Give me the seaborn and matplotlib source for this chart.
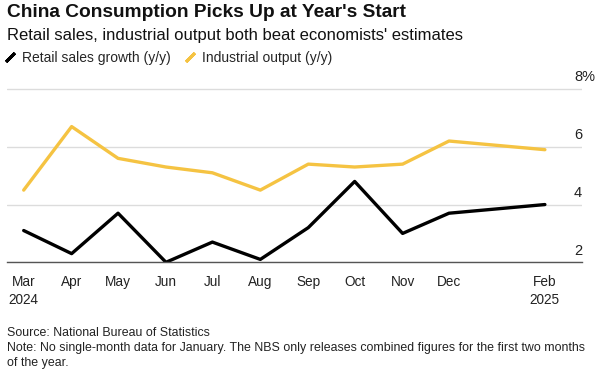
import matplotlib
matplotlib.use("Agg")
import matplotlib.pyplot as plt
import matplotlib.transforms as mtransforms
from matplotlib.lines import Line2D
import seaborn as sns
import pandas as pd

# data
months = ["2024-03-01", "2024-04-01", "2024-05-01", "2024-06-01", "2024-07-01",
          "2024-08-01", "2024-09-01", "2024-10-01", "2024-11-01", "2024-12-01",
          "2025-02-01"]
month_labels = ["Mar\n2024", "Apr", "May", "Jun", "Jul", "Aug", "Sep", "Oct",
                "Nov", "Dec", "Feb\n2025"]
retail_sales = [3.1, 2.3, 3.7, 2.0, 2.7, 2.1, 3.2, 4.8, 3.0, 3.7, 4.0]
industrial_output = [4.5, 6.7, 5.6, 5.3, 5.1, 4.5, 5.4, 5.3, 5.4, 6.2, 5.9]
series_names = ["Retail sales growth (y/y)", "Industrial output (y/y)"]
y_ticks = [2, 4, 6, 8]
y_tick_labels = ["2", "4", "6", "8%"]

BLACK = "#000000"
YELLOW = "#F5C342"

sns.set_theme(style="white")
plt.rcParams["font.family"] = ["Liberation Sans", "DejaVu Sans"]

df = pd.DataFrame({
    "date": pd.to_datetime(months),
    series_names[0]: retail_sales,
    series_names[1]: industrial_output,
})
long = df.melt(id_vars="date", var_name="series", value_name="value")

fig = plt.figure(figsize=(6.02, 3.73), dpi=100)
ax = fig.add_axes([0.0111, 0.2968, 0.9557, 0.4683])

sns.lineplot(data=long, x="date", y="value", hue="series",
             hue_order=series_names[::-1],
             palette={series_names[0]: BLACK, series_names[1]: YELLOW},
             linewidth=2.4, legend=False, ax=ax)

ax.set_xlim(pd.Timestamp("2024-02-19"), pd.Timestamp("2025-02-25"))
ax.set_ylim(2, 8.05)
ax.set_xlabel("")
ax.set_ylabel("")

# horizontal grid
ax.set_yticks(y_ticks)
ax.set_yticklabels([])
ax.tick_params(axis="y", length=0)
ax.grid(axis="y", color="#dcdcdc", linewidth=1)
ax.grid(axis="x", visible=False)
ax.set_axisbelow(True)

# y labels sit above their grid lines, near the right end
offset = mtransforms.offset_copy(ax.get_yaxis_transform(), fig=fig, x=0, y=5.5, units="points")
for v, lab in zip(y_ticks, y_tick_labels):
    ax.text(0.986, v, lab, transform=offset, ha="left", va="baseline",
            fontsize=10.5, color="#222222", clip_on=False)

for s in ["top", "left", "right"]:
    ax.spines[s].set_visible(False)
ax.spines["bottom"].set_color("#555555")
ax.spines["bottom"].set_linewidth(1)

ax.set_xticks(pd.to_datetime(months))
ax.set_xticklabels(month_labels, fontsize=9.8, color="#222222", linespacing=1.35)
ax.tick_params(axis="x", direction="out", length=4, width=0.8, color="#555555", pad=5)

# title block
fig.text(0.011, 0.9536, "China Consumption Picks Up at Year's Start",
         fontsize=13.8, fontweight="bold", color="#111111", va="baseline")
fig.text(0.011, 0.8928, "Retail sales, industrial output both beat economists' estimates",
         fontsize=12.0, color="#111111", va="baseline")

handles = [Line2D([], [], color=c, marker=(2, 2, -45), linestyle="None",
                  markersize=9, markeredgewidth=2.2)
           for c in [BLACK, YELLOW]]
fig.legend(handles, series_names, loc="upper left", bbox_to_anchor=(0.0, 0.875),
           ncol=2, frameon=False, fontsize=10.0, handlelength=0.9,
           handletextpad=0.4, columnspacing=0.9, borderaxespad=0, borderpad=0.3)

fig.text(0.0116, 0.124,
         "Source: National Bureau of Statistics\n"
         "Note: No single-month data for January. The NBS only releases combined "
         "figures for the first two months\nof the year.",
         fontsize=8.95, color="#222222", va="top", linespacing=1.36)

fig.savefig("out.png", dpi=100, facecolor="white")
